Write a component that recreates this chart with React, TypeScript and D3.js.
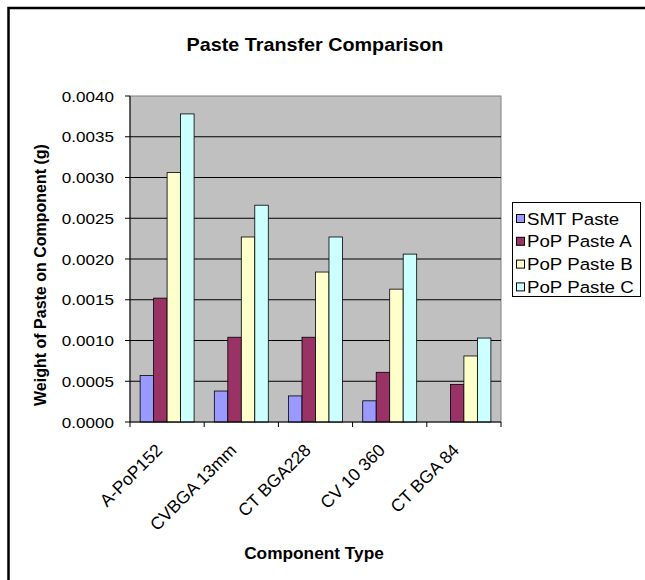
import React from "react";
import * as d3 from "d3";

const categories = ["A-PoP152", "CVBGA 13mm", "CT BGA228", "CV 10 360", "CT BGA 84"];
const seriesNames = ["SMT Paste", "PoP Paste A", "PoP Paste B", "PoP Paste C"];
const seriesColors = ["#9999FF", "#993366", "#FFFFCC", "#CCFFFF"];
const smtPaste = [0.00057, 0.00038, 0.00032, 0.00026, 0];
const popPasteA = [0.00152, 0.00104, 0.00104, 0.00061, 0.00046];
const popPasteB = [0.00306, 0.00227, 0.00184, 0.00163, 0.00081];
const popPasteC = [0.00378, 0.00266, 0.00227, 0.00206, 0.00103];
const yTicks = [0, 0.0005, 0.001, 0.0015, 0.002, 0.0025, 0.003, 0.0035, 0.004];

const seriesValues = [smtPaste, popPasteA, popPasteB, popPasteC];
const font = "'Liberation Sans', Arial, sans-serif";

function SText(props: { x: number; y: number; sx?: number; anchor?: string; size: number; bold?: boolean; dy?: string; children: React.ReactNode }) {
  return (
    <text
      transform={`translate(${props.x},${props.y}) scale(${props.sx ?? 1.12},1)`}
      textAnchor={props.anchor || "start"}
      fontFamily={font}
      fontWeight={props.bold ? "bold" : "normal"}
      fontSize={props.size}
      dy={props.dy}
    >
      {props.children}
    </text>
  );
}

export default function App() {
  const W = 645, H = 580;
  const left = 130, right = 501, top = 96, bottom = 422;

  const x = d3.scaleBand<string>().domain(categories).range([left, right]).paddingInner(0).paddingOuter(0);
  const y = d3.scaleLinear().domain([0, 0.004]).range([bottom, top]);
  const gapRatio = 1.5;
  const bw = x.bandwidth() / (seriesNames.length + gapRatio);
  const groupOffset = (bw * gapRatio) / 2;

  return (
    <svg width={W} height={H} style={{ position: "absolute", left: 0, top: 0, background: "#fff" }}>
      <rect x={8.5} y={8} width={700} height={700} fill="#fff" stroke="#000" strokeWidth={2.5} />
      <SText x={315} y={51} sx={1.04} anchor="middle" size={19} bold>
        Paste Transfer Comparison
      </SText>
      <rect x={left} y={top} width={right - left} height={bottom - top} fill="#C0C0C0" stroke="#808080" strokeWidth={1} />
      {yTicks.filter((t) => t > 0 && t < 0.004).map((t) => (
        <line key={"g" + t} x1={left} x2={right} y1={y(t)} y2={y(t)} stroke="#000" strokeWidth={1} />
      ))}
      {seriesValues.map((vals, si) =>
        vals.map((v, ci) =>
          v > 0 ? (
            <rect
              key={si + "-" + ci}
              x={(x(categories[ci]) as number) + groupOffset + si * bw}
              y={y(v)}
              width={bw}
              height={bottom - y(v)}
              fill={seriesColors[si]}
              stroke="#000"
              strokeWidth={0.8}
            />
          ) : null
        )
      )}
      <line x1={left} x2={left} y1={top} y2={bottom} stroke="#000" strokeWidth={1} />
      <line x1={left} x2={right} y1={bottom} y2={bottom} stroke="#000" strokeWidth={1} />
      {yTicks.map((t) => (
        <g key={"t" + t}>
          <line x1={left - 5} x2={left} y1={y(t)} y2={y(t)} stroke="#000" />
          <SText x={left - 16} y={y(t)} dy="0.36em" anchor="end" size={15.5} sx={1.1}>
            {t.toFixed(4)}
          </SText>
        </g>
      ))}
      {categories.concat(["end"]).map((c, i) => {
        const xp = left + i * x.step();
        return <line key={"xt" + i} x1={xp} x2={xp} y1={bottom} y2={bottom + 5} stroke="#000" />;
      })}
      {categories.map((c) => {
        const cx = (x(c) as number) + x.bandwidth() / 2;
        return (
          <text
            key={"xl" + c}
            transform={`translate(${cx - 8},${bottom + 25}) rotate(-45)`}
            textAnchor="end"
            fontFamily={font}
            fontSize={17.5}
            dy="0.35em"
          >
            {c}
          </text>
        );
      })}
      <text
        transform={`translate(46,275) rotate(-90)`}
        textAnchor="middle"
        fontFamily={font}
        fontWeight="bold"
        fontSize={16}
      >
        Weight of Paste on Component (g)
      </text>
      <SText x={314} y={559} anchor="middle" size={16} sx={1.08} bold>
        Component Type
      </SText>
      <rect x={512.5} y={202.5} width={128} height={94} fill="#fff" stroke="#000" strokeWidth={1} />
      {seriesNames.map((n, i) => (
        <g key={"lg" + n}>
          <rect x={516.5} y={214.5 + i * 22.8} width={8} height={8} fill={seriesColors[i]} stroke="#000" strokeWidth={1} />
          <SText x={527} y={218.5 + i * 22.8} dy="0.36em" size={17} sx={1.1}>
            {n}
          </SText>
        </g>
      ))}
    </svg>
  );
}
